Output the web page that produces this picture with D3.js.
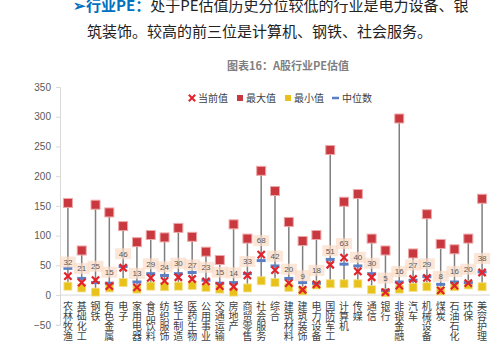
<!DOCTYPE html>
<html lang="zh">
<head>
<meta charset="UTF-8">
<title>A股行业PE估值</title>
<script src="https://cdn.jsdelivr.net/npm/d3@7/dist/d3.min.js"></script>
<style>
  body { margin: 0; background: #fff; }
  svg text { font-family: "Noto Sans CJK SC", "Noto Sans", sans-serif; }
</style>
</head>
<body>
<script>
// 行业
var categories = ["农林牧渔", "基础化工", "钢铁", "有色金属", "电子", "家用电器", "食品饮料", "纺织服饰",
    "轻工制造", "医药生物", "公用事业", "交通运输", "房地产", "商贸零售", "社会服务", "综合",
    "建筑材料", "建筑装饰", "电力设备", "国防军工", "计算机", "传媒", "通信", "银行",
    "非银金融", "汽车", "机械设备", "煤炭", "石油石化", "环保", "美容护理"];
// 当前值
var currentVals = [32, 21, 25, 15, 46, 13, 29, 24, 30, 27, 23, 15, 14, 33, 68, 42,
    20, 9, 18, 51, 63, 40, 30, 5, 16, 27, 29, 8, 16, 20, 38];
// 最大值
var maxVals = [155, 75, 152, 139, 116, 89, 101, 97, 113, 98, 73, 59, 119, 95, 209, 175,
    123, 91, 101, 244, 157, 170, 95, 75, 297, 70, 136, 86, 77, 95, 162];
// 最小值
var minVals = [15, 12, 5, 12, 21, 10, 15, 14, 15, 16, 13, 10, 5, 12, 24, 21,
    13, 7, 17, 19, 19, 19, 9, 4, 10, 13, 14, 7, 14, 17, 14];
// 中位数
var medianVals = [45, 28, 21, 20, 48, 22, 36, 33, 36, 38, 25, 20, 21, 36, 58, 49,
    28, 21, 20, 60, 52, 49, 36, 8, 22, 25, 31, 18, 22, 21, 39];
var yTicks = [-50, 0, 50, 100, 150, 200, 250, 300, 350];

var width = 497, height = 352;
var svg = d3.select("body").append("svg")
    .attr("width", width)
    .attr("height", height);

// 上方正文
var line1 = svg.append("text").attr("x", 73).attr("y", 11).style("font-size", "15px");
line1.append("tspan").attr("fill", "#0070c0").attr("font-weight", "bold").text("➢行业PE：");
line1.append("tspan").attr("fill", "#222").text("处于PE估值历史分位较低的行业是电力设备、银");
svg.append("text").attr("x", 87).attr("y", 37).style("font-size", "15px")
    .attr("fill", "#222").text("筑装饰。较高的前三位是计算机、钢铁、社会服务。");

// 标题
svg.append("text").attr("x", 288).attr("y", 70).attr("text-anchor", "middle")
    .style("font-size", "11px").attr("font-weight", "bold").attr("fill", "#7f7f7f")
    .text("图表16：A股行业PE估值");

var x = d3.scaleBand().domain(categories).range([61, 489]);
var y = d3.scaleLinear().domain([-50, 350]).range([324.8, 87]);
var cx = function (i) { return x(categories[i]) + x.bandwidth() / 2; };

// y 轴
var yAxis = svg.append("g").attr("transform", "translate(60,0)")
    .call(d3.axisLeft(y).tickValues(yTicks).tickSize(4).tickPadding(5));
yAxis.select(".domain").attr("stroke", "#d9d9d9");
yAxis.selectAll(".tick line").attr("stroke", "#d9d9d9");
yAxis.selectAll(".tick text").attr("fill", "#595959").style("font-size", "10px")
    .style("font-family", "'Liberation Sans', sans-serif");

// 0 线
svg.append("line").attr("x1", 60).attr("x2", 490)
    .attr("y1", y(0)).attr("y2", y(0)).attr("stroke", "#d9d9d9").attr("stroke-width", 1);

// 类别标签（竖排）
svg.append("g").selectAll("text").data(categories).enter().append("text")
    .attr("x", function (d) { return x(d) + x.bandwidth() / 2; })
    .attr("y", 301)
    .style("writing-mode", "vertical-rl")
    .style("text-orientation", "upright")
    .style("font-size", "10px")
    .attr("fill", "#404040")
    .text(function (d) { return d; });

var idx = d3.range(categories.length);
var plot = svg.append("g");

// 最小-最大连线
plot.selectAll("line.range").data(idx).enter().append("line")
    .attr("x1", cx).attr("x2", cx)
    .attr("y1", function (i) { return y(maxVals[i]); })
    .attr("y2", function (i) { return y(minVals[i]); })
    .attr("stroke", "#7f7f7f").attr("stroke-width", 1.5);

// 最大值
plot.selectAll("rect.max").data(idx).enter().append("rect")
    .attr("x", function (i) { return cx(i) - 4.5; })
    .attr("y", function (i) { return y(maxVals[i]) - 4.5; })
    .attr("width", 9).attr("height", 9)
    .attr("fill", "#c8383e").attr("stroke", "#eea7a7").attr("stroke-width", 1);

// 最小值
plot.selectAll("rect.min").data(idx).enter().append("rect")
    .attr("x", function (i) { return cx(i) - 4; })
    .attr("y", function (i) { return y(minVals[i]) - 4; })
    .attr("width", 8).attr("height", 8)
    .attr("fill", "#e8c21a").attr("stroke", "#f3e08a").attr("stroke-width", 0.8);

// 中位数
plot.selectAll("line.med").data(idx).enter().append("line")
    .attr("x1", function (i) { return cx(i) - 4.5; })
    .attr("x2", function (i) { return cx(i) + 4.5; })
    .attr("y1", function (i) { return y(medianVals[i]); })
    .attr("y2", function (i) { return y(medianVals[i]); })
    .attr("stroke", "#5b7fc4").attr("stroke-width", 3);

// 当前值
var cross = d3.symbol().type(d3.symbolX).size(36);
plot.selectAll("path.cur").data(idx).enter().append("path")
    .attr("d", cross)
    .attr("transform", function (i) { return "translate(" + cx(i) + "," + y(currentVals[i]) + ")"; })
    .attr("stroke", "#e3232b").attr("stroke-width", 2.2).attr("fill", "none");

// 数据标签
var lab = plot.selectAll("g.lab").data(idx).enter().append("g")
    .attr("transform", function (i) { return "translate(" + cx(i) + "," + (y(currentVals[i]) - 14) + ")"; });
lab.append("rect").attr("x", -8).attr("y", -5.5).attr("width", 16).attr("height", 11)
    .attr("fill", "#fbdcc6").attr("opacity", 0.7);
lab.append("text").attr("text-anchor", "middle").attr("dy", "0.35em")
    .style("font-size", "8px").attr("fill", "#595959")
    .style("font-family", "'Liberation Sans', sans-serif")
    .text(function (i) { return currentVals[i]; });

// 图例
var legend = svg.append("g").attr("transform", "translate(0,98)");
legend.append("path").attr("d", d3.symbol().type(d3.symbolX).size(28))
    .attr("transform", "translate(192,0)").attr("stroke", "#e3232b").attr("stroke-width", 2).attr("fill", "none");
legend.append("rect").attr("x", 237).attr("y", -3).attr("width", 6).attr("height", 6).attr("fill", "#c8383e");
legend.append("rect").attr("x", 285).attr("y", -3).attr("width", 6).attr("height", 6).attr("fill", "#e8c21a");
legend.append("line").attr("x1", 332).attr("x2", 339).attr("y1", 0).attr("y2", 0)
    .attr("stroke", "#5b7fc4").attr("stroke-width", 2.5);
[["当前值", 198], ["最大值", 246], ["最小值", 294], ["中位数", 342]].forEach(function (d) {
    legend.append("text").attr("x", d[1]).attr("dy", "0.35em")
        .style("font-size", "10px").attr("fill", "#404040").text(d[0]);
});
</script>
</body>
</html>
